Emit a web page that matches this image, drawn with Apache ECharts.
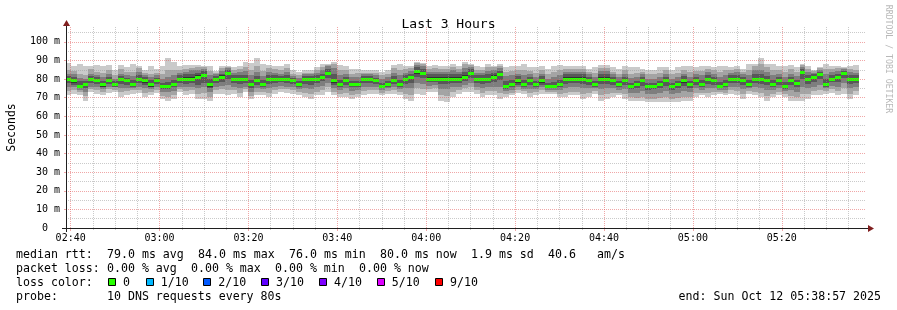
<!DOCTYPE html>
<html><head><meta charset="utf-8">
<script src="https://cdn.jsdelivr.net/npm/echarts@6/dist/echarts.min.js"></script>
<style>html,body{margin:0;padding:0;background:#fff}#c{width:897px;height:310px}</style>
</head><body><div id="c"></div>
<script>
// ---------- data ----------
const STEP = 80;                       // seconds per RRD column
const FIRST_COLUMN_END = '02:40:00';
const RANGE_START = '02:38:57';
const RANGE_END = '05:38:57';
const xTickLabels = ['02:40','03:00','03:20','03:40','04:00','04:20','04:40','05:00','05:20'];
const xMinorTickLabels = ['02:45','02:50','02:55','03:05','03:10','03:15','03:25','03:30','03:35','03:45','03:50','03:55',
  '04:05','04:10','04:15','04:25','04:30','04:35','04:45','04:50','04:55','05:05','05:10','05:15','05:25','05:30','05:35'];
const yTicks = [0,10,20,30,40,50,60,70,80,90,100];
const yMinorTicks = [5,15,25,35,45,55,65,75,85,95,105];

// median rtt (ms) per column
const median = [
80,79,76,77,80,79,77,79,77,80, 79,77,80,79,77,79,76,76,77,80,
80,80,81,82,77,80,81,83,80,80, 80,77,79,77,80,80,80,80,79,77,
80,80,80,81,83,79,77,79,77,77, 80,80,79,76,77,79,77,80,81,84,
83,80,80,80,80,80,80,81,83,80, 80,80,81,82.5,76,77,79,77,79,77,
79,76,76,77,80,80,80,80,79,77, 80,80,79,77,79,76,77,79,76,76,
77,79,76,77,79,77,79,77,80,79, 76,77,80,80,79,77,80,80,79,77,
79,76,79,77.5,83.5,80,81,82.5,77,80, 81,83,80,80];
// sorted pings 1..10 (ms) per column
const ping1 = [
71.2,72.1,71.6,68.5,73,72.1,71.6,72.7,73,70.3, 71.6,72.1,72.7,70.3,71.6,72.7,69.4,68.5,69.4,73,
71.6,72.1,69.4,69.4,68.5,72.1,72.1,71.2,72.1,70.3, 73,69.1,71.2,71.6,70.3,72.1,73,72.7,72.1,71.2,
70.3,69.4,71.2,71.6,73,71.2,70.3,70.3,69.4,70.3, 71.2,72.1,72.1,71.2,72.1,72.1,71.6,69.4,68.5,72.1,
71.2,73,73,68.5,67.6,70.3,72.1,73,73,72.1, 70.3,71.6,71.2,69.4,70.3,71.2,72.7,72.1,70.3,71.6,
72.1,72.1,72.1,70.3,70.3,71.2,71.2,69.4,70.3,72.1, 68.5,69.4,70.3,71.2,69.4,68.5,68,68,67.6,67.6,
67.6,67.6,67.6,67.6,68,68.5,70.3,71.2,70.3,71.2, 72.1,71.2,72.1,71.6,69.4,72.1,71.2,70.3,68.5,70.3,
71.2,70.3,68.5,68.5,68.5,69.4,71.2,71.6,72.1,72.7, 71.2,72.1,69.4,71.2];
const ping2 = [
73.5,74,73,71,74.5,74,73,74.5,74,73, 73.5,74,74,72.5,73,74,71,70.5,71.5,74.5,
73.5,74,72,72.5,70.5,74,74.5,74,74,72.5, 74.5,71,73,73,72.5,74,74.5,74.5,74,73,
72.5,72,73,74,75.5,73,72,72.5,71.5,72, 73.5,74,74,72.5,73.5,74,73,72,71.5,75,
74.5,74.5,75,71.5,71,73,74,75,75.5,74, 72.5,73.5,73.5,72.5,72,72.5,74,73.5,72.5,73,
74,73,73,72,72.5,73,73,72,72.5,73.5, 71.5,72,72.5,72.5,72,70.5,70,70.5,69.5,69.5,
70,70.5,69.5,70,70.5,70.5,72.5,72.5,72.5,73, 73,72.5,74,73.5,72,73.5,73,72.5,71,72,
73,72,71,70.5,72,72,73.5,74,73.5,74.5, 73.5,75,72,73.5];
const ping3 = [
76,75.5,74,73,76,76,74.5,76,75.5,75, 75,75,76,75,74.5,76,73,73,73.5,76,
75.5,76,75,75.5,73,76,76.5,77,76,75, 76,73,75,74.5,75,76,76.5,76,75.5,74.5,
75,74.5,75.5,76.5,78,75,74,75,73.5,74, 76,76,75.5,74,75,75.5,74.5,75,75,78,
77.5,76.5,77,74.5,74.5,75.5,76,77,78,76, 75,75.5,76,76,73.5,74,75.5,74.5,74.5,74.5,
75.5,74,74,74,75,75.5,75.5,75,75,75, 74.5,75,75,74,74.5,72.5,72.5,73.5,72,72,
72.5,73.5,72,72.5,73.5,73,75,74,75,75, 74,74,76,75.5,74.5,75,75.5,75,74,74,
75,73.5,74,73,76,75,76,77,75,76.5, 76,78,75,75.5];
const ping4 = [
78,77,75,75,78,77.5,75.5,77.5,76,77.5, 77,76,78,77,75.5,77.5,74.5,74.5,75.5,78,
77.5,78,77,78,75,78,78.5,80,78,77.5, 78,75,77,76,77.5,78,78.5,78,77.5,75.5,
77.5,77,78,79,80.5,77,75.5,77,75.5,75.5, 78,78,77.5,75,76,77.5,75.5,77.5,78,81,
80.5,78.5,78.5,77.5,77.5,78,78,79,80.5,78, 77.5,78,78.5,79.5,74.5,75.5,77,75.5,77,75.5,
77,75,75,75.5,77.5,78,78,77.5,77,76, 77.5,77.5,77,75.5,77,74.5,75,76.5,74,74.5,
75,76.5,74,75,76.5,75,77,75.5,77.5,77, 75,75.5,78,78,77,76,78,77.5,77,75.5,
77,74.5,77,75.5,80,77.5,78.5,80,76,78.5, 78.5,80.5,77.5,78];
const ping5 = [
79.5,78,75.5,76.5,79.5,78.5,76,78.5,76.5,79.5, 78.5,76.5,79.5,78,76,78.5,75.5,75.5,76.5,79.5,
79,79,80,81,76,79.5,80,82,79.5,79.5, 79.5,76.5,78.5,76.5,79.5,79.5,79.5,79.5,78.5,76.5,
79.5,79.5,79.5,80.5,82,78,76.5,78.5,76.5,76.5, 79.5,79.5,78.5,75.5,76.5,78.5,76.5,79.5,80.5,83,
82,79,79,79,79,79,79,80,82,79.5, 79.5,79.5,80,82,75,76.5,78,76.5,78.5,76.5,
78,75.5,75.5,76.5,79,79,79,79,78.5,76.5, 79,79,78.5,76.5,78.5,75.5,76.5,78.5,75.5,75.5,
76.5,78.5,75.5,76.5,78,76.5,78.5,76.5,79.5,78.5, 75.5,76.5,79.5,79.5,78.5,76.5,79.5,79.5,78.5,76.5,
78.5,75.5,78.5,77,83,79.5,80.5,82,76.5,79.5, 80.5,82.5,79.5,79.5];
const ping6 = [
80.5,80,76.5,77.5,80.5,79.5,78,79.5,77.5,80.5, 79.5,77.5,80.5,80,78,79.5,76.5,76.5,77.5,80.5,
81,81,82,83,78,80.5,82,84,80.5,80.5, 80.5,77.5,79.5,77.5,80.5,80.5,80.5,80.5,79.5,77.5,
80.5,80.5,80.5,81.5,84,80,77.5,79.5,77.5,77.5, 80.5,80.5,79.5,76.5,77.5,79.5,77.5,80.5,81.5,85,
84,81,81,81,81,81,81,82,84,80.5, 80.5,80.5,82,83,77,77.5,80,77.5,79.5,77.5,
80,76.5,76.5,77.5,81,81,81,81,79.5,77.5, 81,81,79.5,77.5,79.5,76.5,77.5,79.5,76.5,76.5,
77.5,79.5,76.5,77.5,80,77.5,79.5,77.5,80.5,79.5, 76.5,77.5,80.5,80.5,79.5,77.5,80.5,80.5,79.5,77.5,
79.5,76.5,79.5,78,84,80.5,81.5,83,77.5,80.5, 81.5,83.5,80.5,80.5];
const ping7 = [
81.5,81,79,79,81.5,81,79,81,79,81.5, 80.5,79.5,82,81,79.5,80.5,78,78.5,79.5,82,
82.5,83,83.5,84.5,80,81.5,83,85,82,82, 82,79.5,81.5,79.5,82,82,81.5,82,80.5,79,
81.5,81.5,82,83,85.5,83,79.5,81,79,79, 81.5,81.5,80.5,78,79,81.5,79.5,82,83,86.5,
85.5,82.5,82.5,82.5,82.5,83,82.5,84,85.5,82, 82,82.5,83.5,84.5,79,79.5,81.5,79.5,81,79,
81.5,78,78.5,79.5,82.5,82.5,82.5,82.5,81,79, 83,83,81,79,81,78,79,81,78,78,
79,81,78,79,81.5,79,81,79.5,82,81, 78.5,79.5,82,82,81,79.5,82.5,82.5,81.5,79.5,
81,78.5,81,79.5,85.5,82,82.5,84,80,82, 83,84.5,82,82];
const ping8 = [
83,82.5,80.5,80,83,82,81,82.5,80,83, 82,81.5,84,82,81,82,80,81,82,83.5,
84,85,85,85.5,82,82.5,84.5,86,83.5,84, 84.5,82,84,81.5,84,83.5,83,84,81.5,80.5,
82.5,82.5,83.5,85,87,86,82,83,81,81, 82.5,82.5,82,80,81,83.5,82,83.5,84.5,87.5,
87,84,84,84,84,85,84,86,86.5,83.5, 83.5,84.5,85,86,81.5,82,83,82,83,81,
83,80,81,82,84,84,84,84,82.5,81, 84.5,84.5,82.5,81,83,80.5,81,82.5,80,80,
81,83,80,81,83,81,82.5,82,84,83, 81,82,83.5,84,82.5,82,85,85,84,82,
83,81,83,81.5,86.5,84,83.5,85,82.5,84, 84.5,85.5,84,83.5];
const ping9 = [
85,84.5,83,82,85.5,84,83.5,85,82,85.5, 84,84,86,83.5,83,83.5,83,85,85,85,
85.5,86,86.5,86.5,84.5,83.5,86,86.5,85,85.5, 86.5,85,87,84.5,86,85.5,85,86,83,82,
83.5,83.5,85,86.5,87.5,88,85,85,83,83.5, 83.5,83.5,83.5,82,83,86,85,85.5,86,88.5,
88,85.5,86,85.5,85.5,86.5,85.5,88,87.5,85, 85,86.5,86.5,87,84,84.5,85,85,84.5,83.5,
85,82.5,84,85,85.5,85.5,85.5,85.5,84,83.5, 86,86,84,83,85,83,83.5,84,82.5,82.5,
83.5,85,82.5,83.5,85,84,84.5,84.5,85.5,85, 84,85,85,85.5,84,85,87,88,86.5,85,
85,84,85.5,84,87.5,85.5,84.2,86,85.5,85.5, 86,86,85.5,85];
const ping10 = [
88.6,87.3,88.2,87.3,87.3,87.7,87.3,87.7,84.7,87.7, 86.5,88.2,87.3,84.7,87.3,85.6,87.3,91.3,89.1,87.3,
87.7,87.7,87.7,87,87.3,84.1,87.3,87.3,86.5,87.3, 89.1,88.8,91.3,88.2,87.7,87.3,87,88.2,84.7,83.8,
84.7,84.7,86.5,88.2,88.2,89.1,87.7,87.3,85.6,85.6, 84.7,84.7,84.7,83.8,84.7,87.7,88.2,87.3,87.3,89.1,
88.8,87.3,87.7,87.3,87,88.2,87.3,89.1,88.2,87.3, 86.5,88.2,87.3,88.2,86.5,87.3,87.3,88.2,86.5,86.5,
87.3,85.6,87.3,87.7,87.3,87.3,87.3,87.3,85.6,86.5, 87.7,87.7,86.5,85.6,87.3,86.5,86.5,85.6,84.7,84.7,
86.5,86.5,84.7,86.5,87.3,87,86.5,87.3,87.3,86.5, 87.3,87.3,86.5,87.3,85.6,88.2,88.2,91.3,88.2,88.2,
87.3,87.3,87.7,86.5,88.2,87.3,84.7,86.5,88.2,87.3, 87.3,86.5,87.3,87.7];

const lossLegend = ['0','1/10','2/10','3/10','4/10','5/10','9/10'];
const lossColors = ['#26ff00','#00b8ff','#0059ff','#5e00ff','#7e00ff','#dd00ff','#ff0000'];
const statsLine1 = [['median rtt:',0],['79.0 ms avg',13],['84.0 ms max',26],['76.0 ms min',39],['80.0 ms now',52],['1.9 ms sd',65],['40.6',76],['am/s',83]];
const statsLine2 = [['packet loss:',0],['0.00 % avg',13],['0.00 % max',25],['0.00 % min',37],['0.00 % now',49]];
const probeLine = [['probe:',0],['10 DNS requests every 80s',13]];
const endText = 'end: Sun Oct 12 05:38:57 2025';

// ---------- helpers / styles ----------
const toSec = s => { const p = s.split(':').map(Number); return p[0]*3600 + p[1]*60 + (p[2]||0); };
const fmtHM = v => { const h = Math.floor(v/3600), m = Math.floor((v%3600)/60); return String(h).padStart(2,'0')+':'+String(m).padStart(2,'0'); };
const FONT = 'DejaVu Sans Mono';
const SMOKE = ['#cacaca','#a4a4a4','#7e7e7e','#585858','#323232'];
const MGRID = 'rgba(225,80,80,0.5)';
const GRID = 'rgba(150,150,150,0.5)';
const AXIS = 'rgb(31,31,31)';
const ARROW = 'rgb(128,31,31)';
const MEDIAN_HALF = 0.8;
const G = {left:66, top:27, width:800, height:201, outerBoundsMode:'none', containLabel:false};
const CH = 7.0, LX = 16;

const xMin = toSec(RANGE_START), xMax = toSec(RANGE_END);
const firstEnd = toSec(FIRST_COLUMN_END);
const data = median.map((m, i) => [firstEnd - STEP + i*STEP, firstEnd + i*STEP,
  ping1[i], ping10[i], ping2[i], ping9[i], ping3[i], ping8[i], ping4[i], ping7[i], ping5[i], ping6[i], m]);

function renderItem(params, api) {
  const s = api.value(0), e = api.value(1);
  const kids = [];
  const pairs = [[2,3],[4,5],[6,7],[8,9],[10,11]];
  pairs.forEach((p, k) => {
    const a = api.coord([s, api.value(p[1])]), b = api.coord([e, api.value(p[0])]);
    const x0 = Math.round(a[0]), x1 = Math.round(b[0]), y0 = Math.round(a[1]), y1 = Math.round(b[1]);
    if (y1 > y0) kids.push({type:'rect', shape:{x:x0, y:y0, width:x1-x0, height:y1-y0}, style:{fill:SMOKE[k]}});
  });
  const m = api.value(12);
  const a = api.coord([s, m + MEDIAN_HALF]), b = api.coord([e, m - MEDIAN_HALF]);
  const x0 = Math.round(a[0]), x1 = Math.round(b[0]), y0 = Math.round(a[1]), y1 = Math.round(b[1]);
  kids.push({type:'rect', shape:{x:x0, y:y0, width:x1-x0, height:y1-y0}, style:{fill:lossColors[0]}});
  return {type:'group', children:kids};
}

const txt = (text, x, y, extra) => ({type:'text', x, y, z:10, style:Object.assign({text, fontFamily:FONT, fontSize:11.6, fill:'#000', align:'left', verticalAlign:'middle'}, extra||{})});
const graphics = [];
statsLine1.forEach(t => graphics.push(txt(t[0], LX + t[1]*CH, 254.5)));
statsLine2.forEach(t => graphics.push(txt(t[0], LX + t[1]*CH, 268.5)));
graphics.push(txt('loss color:', LX, 282.5));
const boxX = [108, 145.7, 203.3, 261, 319, 376.7, 435];
lossLegend.forEach((l, i) => {
  graphics.push({type:'rect', z:10, shape:{x:Math.round(boxX[i])+0.5, y:278.5, width:7, height:7}, style:{fill:lossColors[i], stroke:'#000', lineWidth:1}});
  graphics.push(txt(l, boxX[i] + 15, 282.5));
});
probeLine.forEach(t => graphics.push(txt(t[0], LX + t[1]*CH, 296.5)));
graphics.push(txt(endText, 881, 296.5, {align:'right'}));
graphics.push({type:'text', x:888, y:59, rotation:-Math.PI/2, z:10, style:{text:'RRDTOOL / TOBI OETIKER', fontFamily:FONT, fontSize:8.2, fill:'#b8b8b8', align:'center', verticalAlign:'middle'}});
// axis lines (extended past the plot like rrdtool) and arrows
graphics.push({type:'line', z:10, shape:{x1:62, y1:228.5, x2:870, y2:228.5}, style:{stroke:AXIS, lineWidth:1}});
graphics.push({type:'line', z:10, shape:{x1:66.5, y1:232, x2:66.5, y2:24}, style:{stroke:AXIS, lineWidth:1}});
graphics.push({type:'polygon', z:10, shape:{points:[[874,228.5],[868,225],[868,232]]}, style:{fill:ARROW}});
graphics.push({type:'polygon', z:10, shape:{points:[[66.5,20],[63,26],[70,26]]}, style:{fill:ARROW}});

const xMajor = xTickLabels.map(toSec);
const xMinor = xMinorTickLabels.map(toSec);
const dotted = c => ({show:true, lineStyle:{color:c, width:1, type:[1,1]}});

const option = {
  animation:false,
  backgroundColor:'#ffffff',
  title:{text:'Last 3 Hours', left:'center', top:13, textStyle:{fontFamily:FONT, fontSize:13, fontWeight:'normal', color:'#000'}},
  grid:G,
  xAxis:[
    {type:'value', min:xMin, max:xMax, z:5,
      axisLine:{show:false},
      axisTick:{show:true, length:3, customValues:xMajor, lineStyle:{color:MGRID}},
      axisLabel:{customValues:xMajor, formatter:fmtHM, fontFamily:FONT, fontSize:10, color:'#000', margin:5},
      splitLine:dotted(MGRID)},
    {type:'value', min:xMin, max:xMax, z:4, position:'bottom',
      axisLine:{show:false},
      axisTick:{show:true, length:2, customValues:xMinor, lineStyle:{color:GRID}},
      axisLabel:{show:false, customValues:xMinor},
      splitLine:dotted(GRID)}
  ],
  yAxis:[
    {type:'value', min:0, max:108, z:5,
      name:'Seconds', nameLocation:'middle', nameGap:48, nameRotate:90,
      nameTextStyle:{fontFamily:FONT, fontSize:11.5, color:'#000'},
      axisLine:{show:false},
      axisTick:{show:true, length:2, customValues:yTicks, lineStyle:{color:MGRID}},
      axisLabel:{customValues:yTicks, formatter:v => v === 0 ? '0\u00a0\u00a0' : v + ' m', fontFamily:FONT, fontSize:10, color:'#000', margin:6},
      splitLine:dotted(MGRID)},
    {type:'value', min:0, max:108, z:4,
      axisLine:{show:false},
      axisTick:{show:false, customValues:yMinorTicks},
      axisLabel:{show:false, customValues:yMinorTicks},
      splitLine:dotted(GRID)}
  ],
  series:[{type:'custom', name:'median rtt', xAxisIndex:0, yAxisIndex:0, z:1, clip:true,
    renderItem, data, encode:{x:[0,1], y:[2,3,12]}}],
  graphic:graphics
};
const chart = echarts.init(document.getElementById('c'));
chart.setOption(option);
</script></body></html>
